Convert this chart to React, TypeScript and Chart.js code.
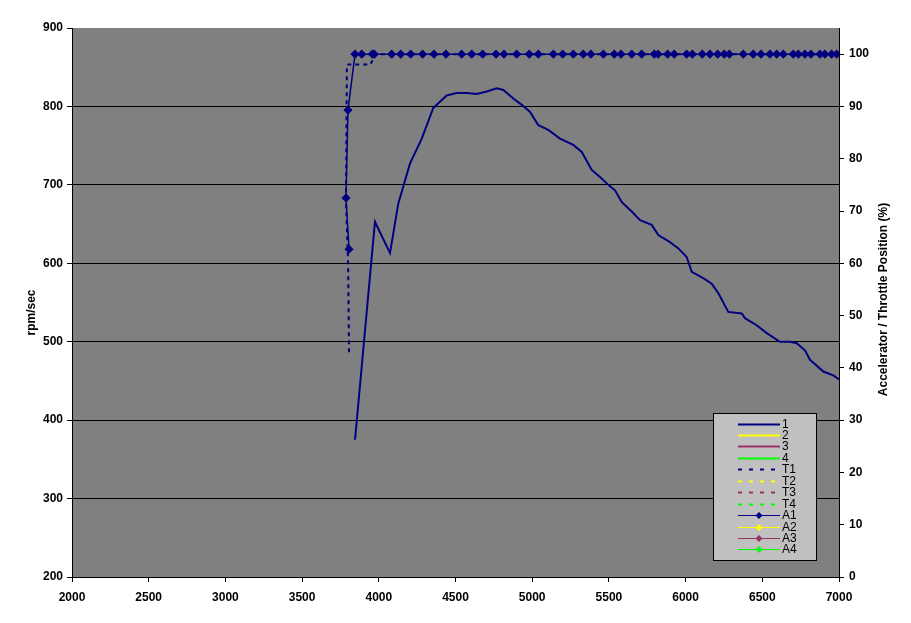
import React, { useEffect, useRef } from 'react';
import { Chart, registerables } from 'chart.js';

Chart.register(...registerables);

// Engine speed (x) and rpm/sec for series "1"
const rpm1 = [3845, 3975, 4073, 4127, 4203, 4280, 4355, 4388, 4443, 4508, 4573, 4638, 4704, 4769, 4812, 4877, 4932, 4986, 5040, 5105, 5181, 5268, 5323, 5388, 5442, 5496, 5540, 5584, 5649, 5703, 5779, 5822, 5898, 5953, 6007, 6040, 6115, 6170, 6213, 6278, 6366, 6387, 6463, 6529, 6615, 6680, 6724, 6778, 6811, 6898, 6963, 7000];
const accel1 = [375, 653, 613, 676, 727, 759, 798, 804, 814, 817, 817, 816, 819, 823, 821, 810, 802, 793, 776, 770, 759, 751, 742, 719, 710, 700, 693, 678, 666, 655, 649, 636, 627, 619, 608, 589, 581, 574, 562, 538, 536, 530, 521, 511, 500, 500, 498, 489, 477, 462, 457, 452];

// Throttle position T1 (%)
const rpmT1 = [3806, 3800, 3786, 3792, 3945, 3980, 7010];
const thrT1 = [43, 60, 72, 98, 98, 100, 100];

// Accelerator position A1 (%)
const rpmA1 = [3806, 3786, 3799, 3845, 3889, 3958, 3971, 4084, 4143, 4208, 4286, 4360, 4438, 4540, 4606, 4677, 4764, 4816, 4899, 4981, 5040, 5138, 5199, 5268, 5333, 5383, 5464, 5535, 5579, 5649, 5714, 5796, 5821, 5883, 5926, 6007, 6044, 6109, 6159, 6209, 6252, 6285, 6376, 6441, 6492, 6550, 6594, 6637, 6702, 6735, 6778, 6817, 6876, 6908, 6952, 6985, 7010];
const accA1 = [62.7, 72.5, 89.3, 100, 100, 100, 100, 100, 100, 100, 100, 100, 100, 100, 100, 100, 100, 100, 100, 100, 100, 100, 100, 100, 100, 100, 100, 100, 100, 100, 100, 100, 100, 100, 100, 100, 100, 100, 100, 100, 100, 100, 100, 100, 100, 100, 100, 100, 100, 100, 100, 100, 100, 100, 100, 100, 100];

const seriesNames = ['1', '2', '3', '4', 'T1', 'T2', 'T3', 'T4', 'A1', 'A2', 'A3', 'A4'];
const seriesColors = ['#000080', '#FFFF00', '#993366', '#00FF00'];

const xTitle = '';
const yTitle = 'rpm/sec';
const y2Title = 'Accelerator / Throttle Position (%)';

const FONT = "'Liberation Sans', Arial, sans-serif";

const toPts = (xs: number[], ys: number[]) => xs.map((x, i) => ({ x, y: ys[i] }));
const plain = (v: any) => String(v);

const bgPlugin = {
  id: 'plotBg',
  beforeDraw(chart: any) {
    const { ctx, chartArea: a } = chart;
    ctx.save();
    ctx.fillStyle = '#808080';
    ctx.fillRect(a.left, a.top, a.right - a.left, a.bottom - a.top);
    ctx.restore();
  },
};

const titlesPlugin = {
  id: 'axisTitles',
  afterDraw(chart: any) {
    const { ctx, chartArea: a } = chart;
    ctx.save();
    ctx.fillStyle = '#000';
    ctx.font = `bold 12px ${FONT}`;
    ctx.textAlign = 'center';
    ctx.textBaseline = 'middle';
    const cy = (a.top + a.bottom) / 2;
    ctx.translate(a.left - 40, cy + 10);
    ctx.rotate(-Math.PI / 2);
    ctx.fillText(yTitle, 0, 0);
    ctx.restore();
    ctx.save();
    ctx.fillStyle = '#000';
    ctx.font = `bold 12px ${FONT}`;
    ctx.textAlign = 'center';
    ctx.textBaseline = 'middle';
    ctx.translate(a.right + 45, cy - 3);
    ctx.rotate(-Math.PI / 2);
    ctx.fillText(y2Title, 0, 0);
    ctx.restore();
  },
};

const legendPlugin = {
  id: 'boxLegend',
  afterDraw(chart: any) {
    const { ctx, chartArea: a } = chart;
    const bx = a.right - 126;
    const by = a.bottom - 164;
    const bw = 103;
    const bh = 147;
    ctx.save();
    ctx.fillStyle = '#C0C0C0';
    ctx.fillRect(bx, by, bw, bh);
    ctx.strokeStyle = '#000';
    ctx.lineWidth = 1;
    ctx.strokeRect(bx + 0.5, by + 0.5, bw, bh);
    const dsets = chart.data.datasets;
    dsets.forEach((ds: any, i: number) => {
      const y = Math.round(by + 10.5 + i * 11.45) + 0.5;
      const x0 = bx + 25;
      const x1 = bx + 67;
      ctx.strokeStyle = ds.borderColor;
      ctx.lineWidth = ds.legendWidth || ds.borderWidth;
      ctx.setLineDash(ds.borderDash ? [4, 7] : []);
      ctx.beginPath();
      ctx.moveTo(x0, y);
      ctx.lineTo(x1, y);
      ctx.stroke();
      ctx.setLineDash([]);
      if (ds.pointRadius > 0) {
        const cx = (x0 + x1) / 2;
        const r = 3.5;
        ctx.fillStyle = ds.borderColor;
        ctx.beginPath();
        ctx.moveTo(cx, y - r);
        ctx.lineTo(cx + r, y);
        ctx.lineTo(cx, y + r);
        ctx.lineTo(cx - r, y);
        ctx.closePath();
        ctx.fill();
      }
      ctx.fillStyle = '#000';
      ctx.font = `12px ${FONT}`;
      ctx.textAlign = 'left';
      ctx.textBaseline = 'middle';
      ctx.fillText(ds.label, x1 + 2, y);
    });
    ctx.restore();
  },
};

export default function App() {
  const ref = useRef<HTMLCanvasElement | null>(null);

  useEffect(() => {
    if (!ref.current) return;
    const dataByName: Record<string, { x: number; y: number }[]> = {
      '1': toPts(rpm1, accel1),
      T1: toPts(rpmT1, thrT1),
      A1: toPts(rpmA1, accA1),
    };
    const datasets = seriesNames.map((name, i) => {
      const color = seriesColors[i % 4];
      const kind = Math.floor(i / 4);
      return {
        label: name,
        data: dataByName[name] || [],
        borderColor: color,
        backgroundColor: color,
        borderWidth: kind === 2 ? 1.5 : 2,
        legendWidth: kind === 2 ? 1 : 2,
        borderDash: kind === 1 ? [4, 4] : undefined,
        pointRadius: kind === 2 ? 3.5 : 0,
        pointHoverRadius: 0,
        pointStyle: 'rectRot',
        showLine: true,
        fill: false,
        tension: 0,
        yAxisID: kind === 0 ? 'y' : 'y2',
        order: kind === 0 ? 2 : 1,
      };
    });

    const chart = new Chart(ref.current, {
      type: 'scatter',
      data: { datasets: datasets as any },
      options: {
        animation: false,
        responsive: false,
        devicePixelRatio: 1,
        layout: { padding: { top: 28, left: 0, right: 0, bottom: 0 } },
        plugins: {
          legend: { display: false },
          tooltip: { enabled: false },
          title: { display: false },
        },
        scales: {
          x: {
            type: 'linear',
            position: 'bottom',
            min: 2000,
            max: 7000,
            title: { display: !!xTitle, text: xTitle },
            ticks: {
              stepSize: 500,
              color: '#000',
              padding: 8,
              maxRotation: 0,
              callback: plain,
              font: { family: FONT, size: 12, weight: 'bold' },
            },
            grid: { drawOnChartArea: false, color: '#000', tickColor: '#000', tickLength: 5 },
            border: { display: true, color: '#000', width: 1 },
            afterFit: (s: any) => { s.height = 46; },
          },
          y: {
            type: 'linear',
            position: 'left',
            min: 200,
            max: 900,
            ticks: {
              stepSize: 100,
              color: '#000',
              padding: 4,
              callback: plain,
              font: { family: FONT, size: 12, weight: 'bold' },
            },
            grid: {
              color: (c: any) => (c.tick && (c.tick.value === 900 || c.tick.value === 200) ? 'rgba(0,0,0,0)' : '#000'),
              tickColor: '#000',
              tickLength: 5,
              lineWidth: 1,
            },
            border: { display: true, color: '#000', width: 1 },
            afterFit: (s: any) => { s.width = 72; },
          },
          y2: {
            type: 'linear',
            position: 'right',
            min: 0,
            max: 105,
            ticks: {
              stepSize: 10,
              color: '#000',
              padding: 5,
              callback: plain,
              font: { family: FONT, size: 12, weight: 'bold' },
            },
            afterBuildTicks: (s: any) => { s.ticks = s.ticks.filter((t: any) => t.value <= 100); },
            grid: { drawOnChartArea: false, color: '#000', tickColor: '#000', tickLength: 5 },
            border: { display: true, color: '#000', width: 1 },
            afterFit: (s: any) => { s.width = 72; },
          },
        },
      } as any,
      plugins: [bgPlugin, titlesPlugin, legendPlugin],
    });
    return () => chart.destroy();
  }, []);

  return (
    <div style={{ position: 'absolute', left: 0, top: 0, width: 911, height: 623, background: '#fff' }}>
      <canvas ref={ref} width={911} height={623} style={{ display: 'block', width: 911, height: 623 }} />
    </div>
  );
}
